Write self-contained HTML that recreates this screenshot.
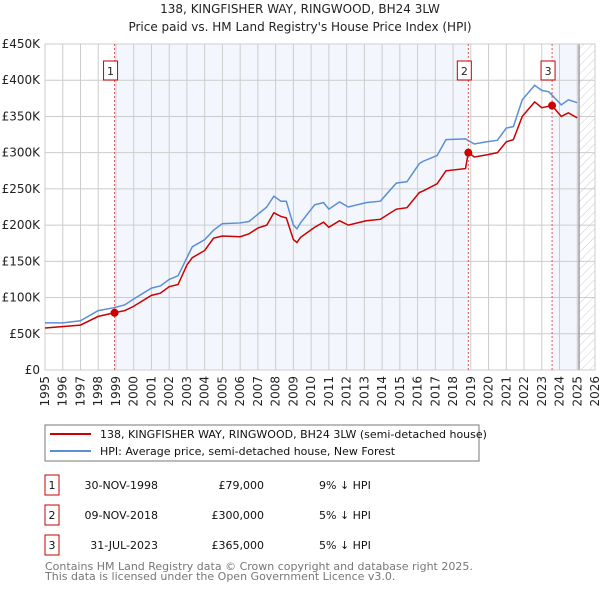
<!DOCTYPE html>
<html><head><meta charset="utf-8"><style>
body{margin:0;background:#fff;width:600px;height:590px;overflow:hidden;font-family:"DejaVu Sans","Liberation Sans",sans-serif}
svg text{font-family:"DejaVu Sans","Liberation Sans",sans-serif}
</style></head><body>
<svg id="chart" width="600" height="590" viewBox="0 0 600 590">
<defs><pattern id="hatch" width="6" height="6" patternUnits="userSpaceOnUse" patternTransform="rotate(45)"><line x1="0" y1="0" x2="0" y2="6" stroke="#ccc" stroke-width="1"/></pattern></defs>
<text x="300" y="13" text-anchor="middle" font-size="12" fill="#222">138, KINGFISHER WAY, RINGWOOD, BH24 3LW</text>
<text x="300" y="31" text-anchor="middle" font-size="12" fill="#222">Price paid vs. HM Land Registry's House Price Index (HPI)</text>
<g id="bg"></g><g id="grid"></g><g id="axes"></g><g id="series"></g><g id="marks"></g>
<rect x="45" y="425" width="434" height="36" fill="#fff" stroke="#777"/>
<line x1="50" y1="434" x2="91" y2="434" stroke="#cc0000" stroke-width="2"/>
<text x="100" y="438" font-size="11" fill="#111">138, KINGFISHER WAY, RINGWOOD, BH24 3LW (semi-detached house)</text>
<line x1="50" y1="451" x2="91" y2="451" stroke="#5b8ed6" stroke-width="2"/>
<text x="100" y="455" font-size="11" fill="#111">HPI: Average price, semi-detached house, New Forest</text>
<g id="table"></g>
<text x="45" y="570" font-size="11" fill="#777">Contains HM Land Registry data © Crown copyright and database right 2025.</text>
<text x="45" y="580" font-size="11" fill="#777">This data is licensed under the Open Government Licence v3.0.</text>
</svg>
<script>
const hpiYears=[1995,1996,1997,1998,1998.9,1999.5,2000,2001,2001.5,2002,2002.5,2003,2003.3,2004,2004.5,2005,2006,2006.5,2007,2007.5,2007.9,2008.3,2008.6,2009.0,2009.2,2009.4,2010.2,2010.7,2011,2011.6,2012.1,2013.1,2013.9,2014.8,2015.4,2016.1,2016.3,2017.1,2017.6,2018.7,2019.2,2019.9,2020.5,2021,2021.4,2021.9,2022.6,2023,2023.4,2024.1,2024.5,2025.0];
const hpiValues=[65,65,68,82,86,90,98,113,116,125,130,155,170,180,193,202,203,205,215,225,240,233,233,200,195,203,228,231,222,232,225,231,233,258,260,285,288,296,318,319,312,315,317,334,336,373,393,386,384,366,373,369];
const priceYears=[1995,1997,1998,1998.92,1999.5,2000,2001,2001.5,2002,2002.5,2003,2003.3,2004,2004.5,2005,2006,2006.5,2007,2007.5,2007.9,2008.3,2008.6,2009.0,2009.2,2009.4,2010.2,2010.7,2011,2011.6,2012.1,2013.1,2013.9,2014.8,2015.4,2016.1,2016.3,2017.1,2017.6,2018.7,2018.86,2019.2,2019.9,2020.5,2021,2021.4,2021.9,2022.6,2023,2023.58,2024.1,2024.5,2025.0];
const priceValues=[58,62,74,79,82,88,103,106,115,118,145,155,165,182,185,184,188,196,200,217,212,210,180,176,183,197,204,197,206,200,206,208,222,224,245,247,257,275,278,300,294,297,300,315,318,350,370,362,365,350,355,348];
const saleYears=[1998.92,2018.86,2023.58];
const saleValues=[79,300,365];
const saleLabels=["1","2","3"];
const saleDates=["30-NOV-1998","09-NOV-2018","31-JUL-2023"];
const salePrices=["£79,000","£300,000","£365,000"];
const saleDiffs=["9% ↓ HPI","5% ↓ HPI","5% ↓ HPI"];
const yTicks=[0,50,100,150,200,250,300,350,400,450];
const yTickLabels=["£0","£50K","£100K","£150K","£200K","£250K","£300K","£350K","£400K","£450K"];
const xTicks=[1995,1996,1997,1998,1999,2000,2001,2002,2003,2004,2005,2006,2007,2008,2009,2010,2011,2012,2013,2014,2015,2016,2017,2018,2019,2020,2021,2022,2023,2024,2025,2026];
const dataEnd=2025.1;
const X0=45,X1=595,Y0=370,Y1=44;
const x=v=>X0+(v-1995)/(2026-1995)*(X1-X0);
const y=v=>Y0-v/450*(Y0-Y1);
const NS="http://www.w3.org/2000/svg";
function mk(parent,tag,attrs,text){const e=document.createElementNS(NS,tag);for(const k in attrs)e.setAttribute(k,attrs[k]);if(text!==undefined)e.textContent=text;document.getElementById(parent).appendChild(e);return e;}
let e;
e=mk('bg','rect',{x:X0,y:Y1,width:X1-X0,height:Y0-Y1,fill:'#fff'});


e=mk('bg','rect',{x:x(saleYears[0]),y:Y1,width:x(saleYears[1])-x(saleYears[0]),height:Y0-Y1,fill:'#eef3fc',opacity:0.7});


e=mk('bg','rect',{x:x(saleYears[2]),y:Y1,width:x(dataEnd)-x(saleYears[2]),height:Y0-Y1,fill:'#eef3fc',opacity:0.7});


e=mk('bg','rect',{x:x(dataEnd),y:Y1,width:X1-x(dataEnd),height:Y0-Y1,fill:'url(#hatch)'});


yTicks.forEach((t,i)=>{
 e=mk('grid','line',{x1:X0,x2:X1,y1:y(t),y2:y(t),stroke:'#ccc','stroke-width':1});
 
 
 e=mk('axes','text',{x:40,y:y(t)+4,'text-anchor':'end','font-size':12,fill:'#222'},yTickLabels[i]);
 
 
});
xTicks.forEach(t=>{
 e=mk('grid','line',{x1:x(t),x2:x(t),y1:Y1,y2:Y0,stroke:'#ccc','stroke-width':1});
 
 
 e=mk('axes','text',{x:x(t)+4,y:376,'text-anchor':'end','font-size':12,fill:'#222',transform:`rotate(-90 ${x(t)+4} 376)`},String(t));
 
 
});
e=mk('grid','line',{x1:x(dataEnd),x2:x(dataEnd),y1:Y1,y2:Y0,stroke:'#888','stroke-width':1.2});


e=mk('series','polyline',{points:hpiYears.map((v,i)=>x(v)+','+y(hpiValues[i])).join(' '),fill:'none',stroke:'#5b8ed6','stroke-width':1.5});


e=mk('series','polyline',{points:priceYears.map((v,i)=>x(v)+','+y(priceValues[i])).join(' '),fill:'none',stroke:'#cc0000','stroke-width':1.5});


saleYears.forEach((s,i)=>{
 e=mk('marks','line',{x1:x(s),x2:x(s),y1:Y1,y2:Y0,stroke:'#e05555','stroke-width':1,'stroke-dasharray':'2,2'});
 
 
 e=mk('marks','circle',{cx:x(s),cy:y(saleValues[i]),r:4,fill:'#cc0000'});
 
 
 e=mk('marks','rect',{x:x(s)-11,y:61,width:14,height:19,fill:'#fff',stroke:'#cc0000'});
 
 
 e=mk('marks','text',{x:x(s)-4,y:75,'text-anchor':'middle','font-size':11,fill:'#222'},saleLabels[i]);
 
 
 const ry=475+i*30;
 e=mk('table','rect',{x:45,y:ry,width:14,height:20,fill:'#fff',stroke:'#cc0000'});
 
 
 e=mk('table','text',{x:52,y:ry+14,'text-anchor':'middle','font-size':11,fill:'#111'},saleLabels[i]);
 
 
 e=mk('table','text',{x:158,y:ry+14,'text-anchor':'end','font-size':11,fill:'#111'},saleDates[i]);
 
 
 e=mk('table','text',{x:264,y:ry+14,'text-anchor':'end','font-size':11,fill:'#111'},salePrices[i]);
 
 
 e=mk('table','text',{x:319,y:ry+14,'font-size':11,fill:'#111'},saleDiffs[i]);
 
 
});
e=mk('axes','rect',{x:X0,y:Y1,width:X1-X0,height:Y0-Y1,fill:'none',stroke:'#ccc'});


</script>
</body></html>
